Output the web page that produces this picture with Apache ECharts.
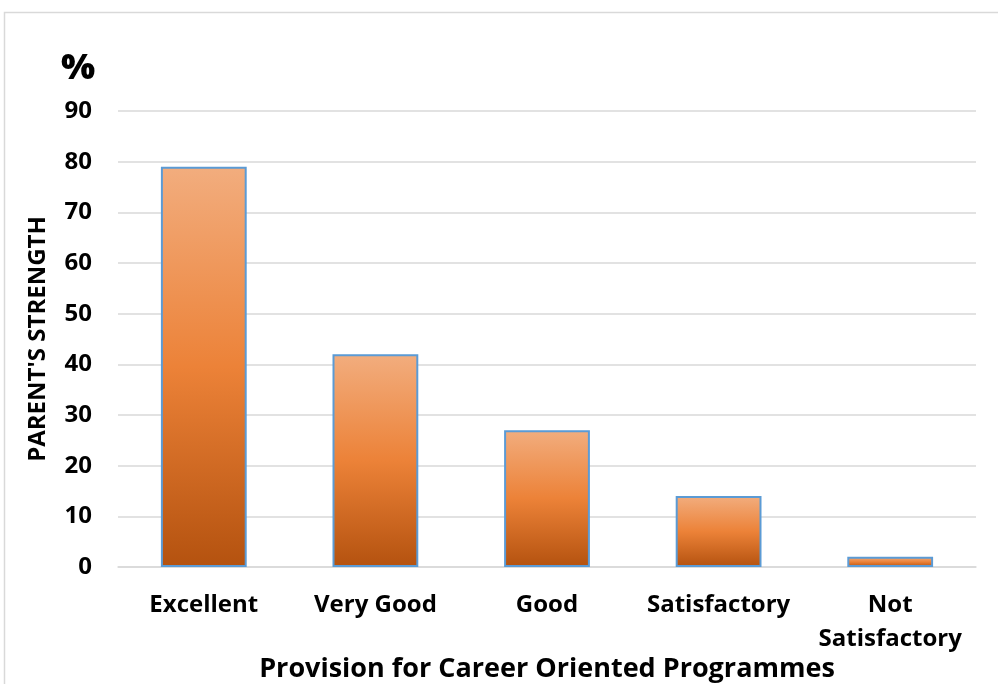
<!DOCTYPE html>
<html><head><meta charset="utf-8">
<script src="https://cdn.jsdelivr.net/npm/echarts@6/dist/echarts.min.js"></script>
<style>html,body{margin:0;padding:0;background:#fff}#c{width:998px;height:684px}</style>
</head><body><div id="c"></div>
<script>
const categories = ['Excellent', 'Very Good', 'Good', 'Satisfactory', 'Not\nSatisfactory'];
const values = [79, 42, 27, 14, 2];
const yTicks = [0, 90, 10];

const chart = echarts.init(document.getElementById('c'), null, {renderer: 'canvas'});
const FONT = '"Open Sans", "Liberation Sans", sans-serif';
chart.setOption({
  animation: false,
  backgroundColor: '#fff',
  graphic: [
    {type: 'rect', shape: {x: 4.5, y: 12.5, width: 1000, height: 700}, style: {fill: 'none', stroke: '#d9d9d9', lineWidth: 1.5}, silent: true},
    {type: 'text', left: 61, top: 51, style: {text: '%', font: '800 36px ' + FONT, fill: '#000'}}
  ],
  grid: {left: 118, right: 22, top: 111, bottom: 117, outerBoundsMode: 'none', containLabel: false},
  xAxis: {
    type: 'category',
    data: categories,
    axisLine: {show: true, lineStyle: {color: '#d9d9d9', width: 1.5}},
    axisTick: {show: false},
    axisLabel: {color: '#000', fontFamily: FONT, fontWeight: 'bold', fontSize: 24, margin: 21, lineHeight: 34, interval: 0},
    name: 'Provision for Career Oriented Programmes',
    nameLocation: 'middle',
    nameGap: 89,
    nameMoveOverlap: false,
    nameTextStyle: {color: '#000', fontFamily: FONT, fontWeight: 'bold', fontSize: 27}
  },
  yAxis: {
    type: 'value',
    min: yTicks[0], max: yTicks[1], interval: yTicks[2],
    axisLine: {show: false},
    axisTick: {show: false},
    splitLine: {lineStyle: {color: '#d9d9d9', width: 1.5}},
    axisLabel: {color: '#000', fontFamily: FONT, fontWeight: 'bold', fontSize: 24, margin: 26},
    name: "PARENT'S STRENGTH",
    nameLocation: 'middle',
    nameGap: 68,
    nameMoveOverlap: false,
    nameTextStyle: {color: '#000', fontFamily: FONT, fontWeight: 'bold', fontSize: 24}
  },
  series: [{
    type: 'bar',
    data: values,
    barWidth: '50%',
    itemStyle: {
      borderColor: '#5B9BD5',
      borderWidth: 2,
      color: new echarts.graphic.LinearGradient(0, 0, 0, 1, [
        {offset: 0, color: '#F2AD7E'},
        {offset: 0.5, color: '#EC8238'},
        {offset: 1, color: '#B4520F'}
      ])
    }
  }]
});
</script></body></html>
